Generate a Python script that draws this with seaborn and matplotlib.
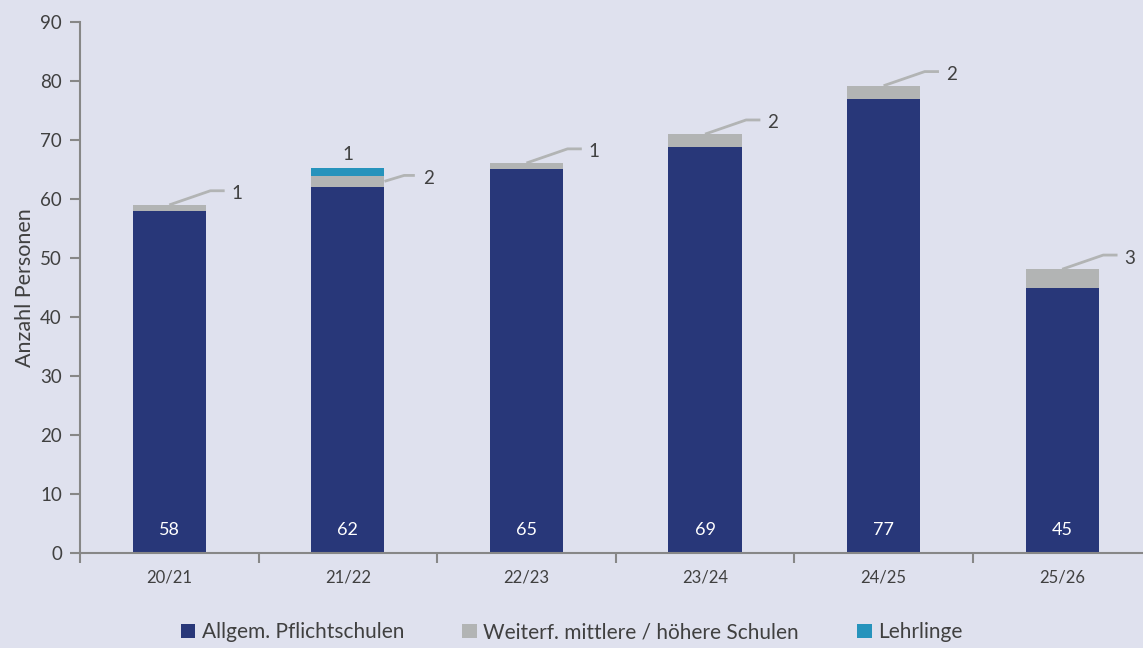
import numpy as np
import pandas as pd
import seaborn as sns
import matplotlib.pyplot as plt
from matplotlib.patches import Patch

# ======================================
# DATA
# ======================================

years = ["20/21", "21/22", "22/23", "23/24", "24/25", "25/26"]
pflicht = [58, 62.1, 65.1, 68.9, 77, 45]
weiterf = [1, 1.8, 1, 2.1, 2.2, 3.1]
lehrlinge = [0, 1.4, 0, 0, 0, 0]

series_names = [
    "Allgem. Pflichtschulen",
    "Weiterf. mittlere / höhere Schulen",
    "Lehrlinge"
]

# ======================================
# STYLE
# ======================================

bg = "#dfe1ee"
navy = "#283779"
grey = "#b2b4b4"
teal = "#2693bc"
text_col = "#404040"
axis_col = "#878787"

sns.set_theme(style="white")
plt.rcParams["font.family"] = ["Lato", "DejaVu Sans"]

df = pd.DataFrame({
    "year": years,
    "p": pflicht,
    "pw": np.array(pflicht) + np.array(weiterf),
    "pwl": np.array(pflicht) + np.array(weiterf) + np.array(lehrlinge),
})

fig = plt.figure(figsize=(11.43, 6.48), dpi=100, facecolor=bg)
ax = fig.add_axes([0.0700, 0.1466, 0.9374, 0.8194])
ax.set_facecolor(bg)

# stacked bars: draw cumulative totals from top layer down
for col, color in [("pwl", teal), ("pw", grey), ("p", navy)]:
    sns.barplot(
        data=df,
        x="year",
        y=col,
        color=color,
        saturation=1,
        width=0.41,
        linewidth=0,
        ax=ax
    )

ax.set_xlim(-0.5, 5.5)
ax.set_ylim(0, 90)
ax.set_yticks(range(0, 91, 10))
ax.set_xlabel("")
ax.set_ylabel("Anzahl Personen", fontsize=15.5, color=text_col, labelpad=4)

for s in ["top", "right"]:
    ax.spines[s].set_visible(False)
for s in ["left", "bottom"]:
    ax.spines[s].set_color(axis_col)
    ax.spines[s].set_linewidth(1.5)

ax.tick_params(axis="y", which="major", length=7, width=1.5, color=axis_col,
               labelsize=13.5, labelcolor=text_col, direction="out", left=True, pad=6)
ax.tick_params(axis="x", which="major", length=0, labelsize=12,
               labelcolor=text_col, pad=12)
ax.set_xticks(np.arange(-0.5, 6, 1), minor=True)
ax.tick_params(axis="x", which="minor", length=7, width=1.5, color=axis_col,
               direction="out", bottom=True)

# ======================================
# LABELS
# ======================================

for i, v in enumerate(pflicht):
    ax.text(i, 3.9, f"{v:.0f}", color="white", ha="center", va="center", fontsize=13)

for i in range(len(years)):
    w = weiterf[i]
    if w == 0:
        continue
    if lehrlinge[i] > 0:
        # label beside the grey segment, line from bar edge
        y0 = pflicht[i] + w / 2
        x0 = i + 0.205
        pts_x = [x0, x0 + 0.11, x0 + 0.17]
        pts_y = [y0, y0 + 1.0, y0 + 1.0]
        ax.plot(pts_x, pts_y, color=grey, lw=2, solid_capstyle="butt")
        ax.text(x0 + 0.245, y0 + 0.4, f"{w:.0f}", color=text_col,
                ha="center", va="center", fontsize=13.5)
        # teal label above bar
        top = pflicht[i] + w + lehrlinge[i]
        ax.text(i, top + 2.3, f"{lehrlinge[i]:.0f}", color=text_col,
                ha="center", va="center", fontsize=13.5)
    else:
        y0 = pflicht[i] + w
        pts_x = [i, i + 0.23, i + 0.31]
        pts_y = [y0, y0 + 2.4, y0 + 2.4]
        ax.plot(pts_x, pts_y, color=grey, lw=2, solid_capstyle="butt")
        ax.text(i + 0.38, y0 + 1.9, f"{w:.0f}", color=text_col,
                ha="center", va="center", fontsize=13.5)

# ======================================
# LEGEND
# ======================================

handles = [Patch(facecolor=c, edgecolor="none") for c in [navy, grey, teal]]
fig.legend(
    handles,
    series_names,
    loc="center",
    bbox_to_anchor=(0.5, 0.024),
    ncol=3,
    frameon=False,
    fontsize=15,
    handlelength=0.7,
    handleheight=0.7,
    handletextpad=0.3,
    columnspacing=2.8,
    labelcolor=text_col
)

plt.savefig("out.png", dpi=100, facecolor=bg)
